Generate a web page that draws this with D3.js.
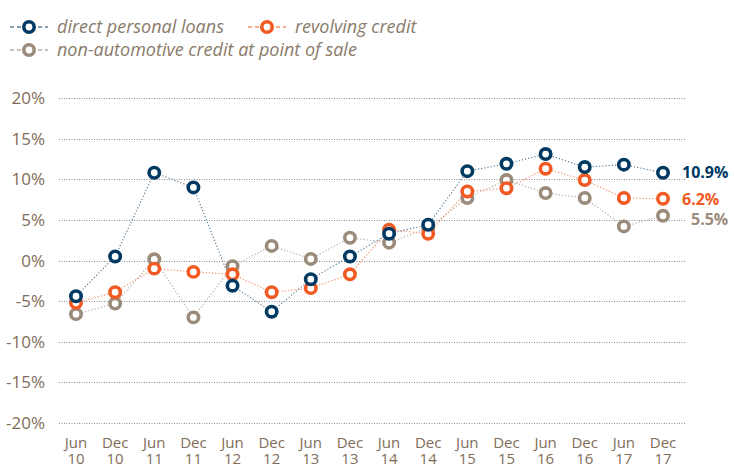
<!DOCTYPE html>
<html lang="en">
<head>
    <meta charset="UTF-8">
    <title>Consumer credit growth</title>
    <script src="https://d3js.org/d3.v7.min.js"></script>
    <style>
        body { margin: 0; background: #fff; }
        text { font-family: "Open Sans", sans-serif; }
        .tick_text { fill: #7f6d5a; font-size: 17px; }
        .x_text { fill: #7f6d5a; font-size: 15px; }
        .legend_text { fill: #8a7a6a; font-size: 18px; font-style: italic; }
        .end_text { font-size: 16px; font-weight: bold; }
    </style>
</head>
<body>
<svg width="734" height="467"></svg>

<script>
    // periods on the x axis
    const months = ["Jun", "Dec", "Jun", "Dec", "Jun", "Dec", "Jun", "Dec",
        "Jun", "Dec", "Jun", "Dec", "Jun", "Dec", "Jun", "Dec"];
    const years = ["10", "10", "11", "11", "12", "12", "13", "13",
        "14", "14", "15", "15", "16", "16", "17", "17"];

    // series (% y/y)
    const personalLoans = [-4.4, 0.5, 10.8, 9.0, -3.1, -6.3, -2.3, 0.5,
        3.3, 4.4, 11.0, 11.9, 13.1, 11.5, 11.8, 10.8];
    const revolving = [-5.2, -3.9, -1.0, -1.4, -1.7, -3.9, -3.4, -1.7,
        3.8, 3.3, 8.5, 8.9, 11.3, 9.9, 7.7, 7.6];
    const pointOfSale = [-6.6, -5.3, 0.15, -7.0, -0.7, 1.8, 0.2, 2.8,
        2.2, 4.0, 7.7, 9.9, 8.3, 7.7, 4.2, 5.5];

    const yTicks = [20, 15, 10, 5, 0, -5, -10, -15, -20];
    const endLabels = ["10.9%", "6.2%", "5.5%"];
    const seriesNames = ["direct personal loans", "revolving credit",
        "non-automotive credit at point of sale"];

    const colors = ["#003a63", "#f15a22", "#9b8b7b"];
    const lineColors = ["#5d7f99", "#f4936a", "#b9aea2"];

    const svg = d3.select("svg");

    const x = d3.scaleLinear().domain([0, months.length - 1]).range([76, 663]);
    const y = d3.scaleLinear().domain([-20, 20]).range([423, 98]);

    // grid lines
    svg.append("g")
        .selectAll("line")
        .data(yTicks)
        .enter()
        .append("line")
        .attr("x1", 59)
        .attr("x2", 685)
        .attr("y1", d => Math.round(y(d)) + 0.5)
        .attr("y2", d => Math.round(y(d)) + 0.5)
        .attr("stroke", "#8f8f8f")
        .attr("stroke-width", 1)
        .attr("stroke-dasharray", "1,1.5");

    // y labels
    svg.append("g")
        .selectAll("text")
        .data(yTicks)
        .enter()
        .append("text")
        .attr("class", "tick_text")
        .attr("x", 45)
        .attr("y", d => y(d) + 6)
        .attr("text-anchor", "end")
        .text(d => d + "%");

    // x labels, two lines each
    const xl = svg.append("g")
        .selectAll("text")
        .data(months)
        .enter()
        .append("text")
        .attr("class", "x_text")
        .attr("text-anchor", "middle")
        .attr("x", (d, i) => x(i));
    xl.append("tspan").attr("x", (d, i) => x(i)).attr("y", 448).text(d => d);
    xl.append("tspan").attr("x", (d, i) => x(i)).attr("y", 464).text((d, i) => years[i]);

    const series = [personalLoans, revolving, pointOfSale];
    const line = d3.line().x((d, i) => x(i)).y(d => y(d));

    // draw bottom-most series first
    [2, 1, 0].forEach(function (k) {
        svg.append("path")
            .datum(series[k])
            .attr("d", line)
            .attr("fill", "none")
            .attr("stroke", lineColors[k])
            .attr("stroke-width", 1.2)
            .attr("stroke-dasharray", "1.2,2");
    });
    [2, 1, 0].forEach(function (k) {
        svg.append("g")
            .selectAll("circle")
            .data(series[k])
            .enter()
            .append("circle")
            .attr("cx", (d, i) => x(i))
            .attr("cy", d => y(d))
            .attr("r", 5.2)
            .attr("fill", "#fff")
            .attr("stroke", colors[k])
            .attr("stroke-width", 3.6);
    });

    // end labels
    const endPos = [[682, 178], [682, 205], [691, 225]];
    endLabels.forEach(function (t, k) {
        svg.append("text")
            .attr("class", "end_text")
            .attr("x", endPos[k][0])
            .attr("y", endPos[k][1])
            .attr("fill", colors[k])
            .text(t);
    });

    // legend
    const legendPos = [[10, 27], [248, 27], [10, 50]];
    seriesNames.forEach(function (name, k) {
        const g = svg.append("g")
            .attr("transform", "translate(" + legendPos[k][0] + "," + legendPos[k][1] + ")");
        g.append("line")
            .attr("x1", 0).attr("x2", 38)
            .attr("y1", 0).attr("y2", 0)
            .attr("stroke", lineColors[k])
            .attr("stroke-width", 1.3)
            .attr("stroke-dasharray", "4,3");
        g.append("circle")
            .attr("cx", 19).attr("cy", 0).attr("r", 5.2)
            .attr("fill", "#fff")
            .attr("stroke", colors[k])
            .attr("stroke-width", 3.6);
        g.append("text")
            .attr("class", "legend_text")
            .attr("x", 47)
            .attr("y", 6)
            .text(name);
    });
</script>
</body>
</html>
